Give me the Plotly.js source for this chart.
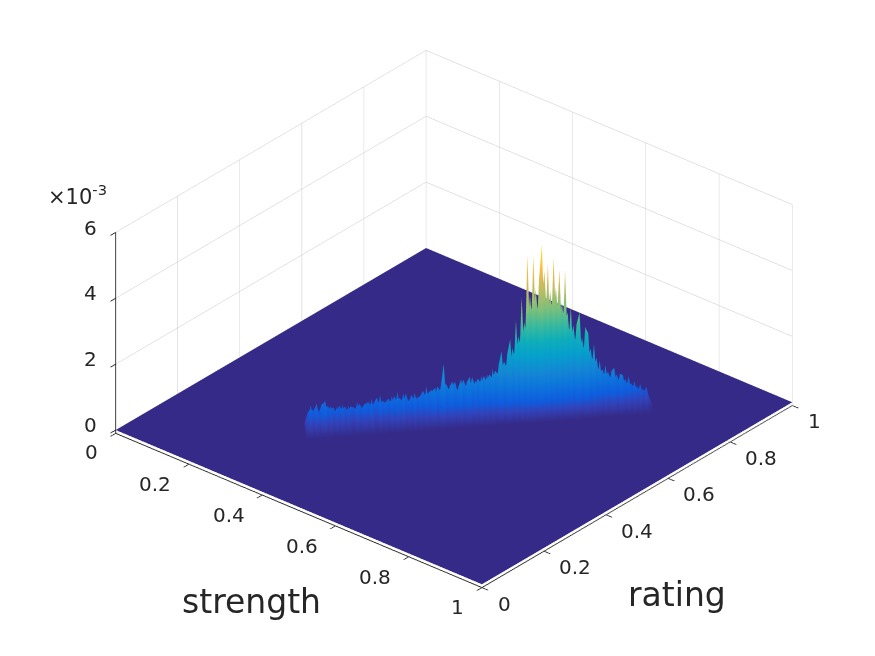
<!DOCTYPE html>
<html>
<head>
<meta charset="utf-8">
<script src="https://cdn.plot.ly/plotly-3.0.1.min.js"></script>
<style>
  html, body { margin: 0; padding: 0; background: #fff; }
  #chart { width: 875px; height: 656px; }
</style>
</head>
<body>
<div id="chart"></div>
<script>
// axis ticks
const strengthTicks = [0, 0.2, 0.4, 0.6, 0.8, 1];
const ratingTicks = [0, 0.2, 0.4, 0.6, 0.8, 1];
const zTicks = [0, 0.002, 0.004, 0.006];
const zTickLabels = ["0", "2", "4", "6"];

// floor of the surface
const floorStrength = [0, 1];
const floorRating = [0, 1];
const floorHeight = [[0, 0], [0, 0]];

// ridge centre line
const ridgeStrength = [
  .311,.315,.319,.323,.327,.331,.335,.339,.343,.347,.351,.355,.359,.363,.367,.371,.375,.379,.383,.387,
  .391,.395,.399,.403,.407,.411,.415,.419,.423,.427,.431,.435,.439,.443,.447,.451,.455,.459,.463,.467,
  .471,.475,.479,.483,.487,.491,.495,.499,.503,.507,.511,.515,.519,.523,.527,.531,.535,.539,.543,.547,
  .551,.555,.559,.563,.567,.571,.575,.579,.583,.587,.591,.595,.599,.603,.607,.611,.615,.619,.623,.627,
  .631,.635,.639,.643,.647,.651,.655,.659,.663,.667,.671,.675,.679,.683,.687,.691,.695,.699,.703,.707,
  .711,.715,.719,.723,.727,.731,.735,.739,.743,.747,.751,.755,.759,.763,.767,.771,.775,.779,.783,.787,.791
];
const ridgeRating = [
  .243,.248,.252,.257,.261,.266,.271,.275,.280,.284,.289,.293,.298,.303,.307,.312,.316,.321,.326,.330,
  .335,.339,.344,.349,.353,.358,.362,.367,.372,.376,.381,.385,.390,.394,.399,.404,.408,.413,.417,.422,
  .427,.431,.436,.440,.445,.450,.454,.459,.463,.468,.473,.477,.482,.486,.491,.495,.500,.505,.509,.514,
  .518,.523,.528,.532,.537,.541,.546,.551,.555,.560,.564,.569,.573,.578,.583,.587,.592,.596,.601,.606,
  .610,.615,.619,.624,.629,.633,.638,.642,.647,.652,.656,.661,.665,.670,.674,.679,.684,.688,.693,.697,
  .702,.707,.711,.716,.720,.725,.730,.734,.739,.743,.748,.752,.757,.762,.766,.771,.775,.780,.785,.789,.794
];

// heights (x 10^-3) across the ridge: behind, on and in front of the centre line
const ridgeBack = [
  .25,.55,.65,.6,.75,.55,.8,.65,.7,.6,
  .65,.5,.7,.55,.65,.5,.65,.6,.55,.7,
  .55,.65,.75,.6,.7,.85,.6,.75,.65,.8,
  .65,.85,.7,.8,.65,.9,.65,.85,.7,.75,
  .8,.95,.75,.9,.95,.75,1.05,.9,1.05,1.1,
  .9,1.0,1.15,.85,1.0,1.2,.95,.85,1.25,1.0,
  1.2,1.05,1.25,1.1,1.3,1.15,1.4,1.25,1.35,1.65,
  1.45,1.35,2.05,1.6,2.4,1.9,2.8,2.3,3.6,2.6,
  3.8,2.7,3.3,4.3,2.6,3.7,2.8,3.8,2.6,3.3,
  2.6,3.0,2.0,2.6,1.9,1.7,2.2,1.6,1.5,1.85,
  1.25,1.55,1.0,1.2,.95,1.1,.85,.8,1.0,.75,
  .7,.85,.6,.7,.55,.6,.45,.5,.4,.3,.1
];
const ridgeMid = [
  .2,.5,.85,.35,.9,.45,.85,.95,.4,.8,
  .35,.75,.4,.8,.3,.75,.45,.3,.85,.4,
  .7,.8,.45,.9,.4,.45,1.0,.5,.85,.4,
  .95,.5,1.05,.5,1.0,.45,.8,.5,1.0,.5,
  .9,.55,1.15,.6,1.0,1.1,.6,1.15,1.8,.65,
  1.1,1.25,.65,1.05,1.3,.65,1.2,1.35,.7,1.25,
  .75,1.35,.75,1.4,.85,1.55,.9,1.65,2.05,1.0,
  1.95,2.4,1.1,2.95,1.4,3.65,1.6,4.95,2.0,4.9,
  2.2,4.2,5.2,2.4,4.6,2.1,4.8,2.5,4.4,2.1,
  4.35,1.8,3.25,1.5,2.7,3.05,1.3,2.6,2.4,1.1,
  2.05,.9,1.55,.75,1.4,.7,1.2,1.3,.65,1.1,
  1.05,.6,1.0,.5,.85,.45,.75,.4,.65,.35,.15
];
const ridgeFront = [
  .1,.3,.5,.2,.55,.22,.5,.6,.2,.45,
  .18,.4,.2,.45,.15,.4,.22,.15,.5,.18,
  .4,.45,.2,.55,.22,.18,.6,.22,.5,.2,
  .6,.22,.65,.25,.6,.18,.45,.22,.6,.22,
  .55,.22,.7,.25,.6,.7,.22,.7,1.0,.25,
  .65,.75,.28,.65,.8,.28,.7,.85,.28,.75,
  .28,.85,.3,.9,.32,.95,.32,1.0,1.2,.38,
  1.15,1.4,.38,1.7,.45,2.1,.55,2.6,.65,2.5,
  .75,2.2,2.8,.8,2.4,.75,2.5,.85,2.3,.75,
  2.2,.6,1.8,.5,1.5,1.7,.45,1.45,1.3,.4,
  1.15,.35,.9,.28,.8,.25,.7,.75,.22,.65,
  .6,.2,.6,.18,.5,.18,.45,.15,.4,.12,.05
];
// how far each of the rows above sits from the centre line
const crossOffset = [-0.018, -0.008, 0, 0.009, 0.02];

const parula = [
  [0, "#352a87"], [0.063, "#3243ba"], [0.111, "#0f5cdd"], [0.19, "#0d75dc"],
  [0.254, "#1485d4"], [0.35, "#06a0cd"], [0.43, "#0faeb9"], [0.508, "#38b99e"],
  [0.6, "#7cbf7b"], [0.7, "#b7bd64"], [0.762, "#d9ba56"], [0.84, "#fdbe3d"],
  [0.92, "#f5de21"], [1, "#f9fb0e"]
];

function ridgeSurface() {
  const zero = ridgeMid.map(() => 0);
  const rows = [zero, ridgeBack, ridgeMid, ridgeFront, zero];
  return {
    x: crossOffset.map((d) => ridgeStrength.map((v) => v + d)),
    y: crossOffset.map((d) => ridgeRating.map((v) => v - d)),
    z: rows.map((row) => row.map((v) => v * 0.001)),
  };
}

const flatLight = { ambient: 1, diffuse: 0, specular: 0, roughness: 1, fresnel: 0 };

const floorTrace = {
  type: "surface",
  x: floorStrength,
  y: floorRating,
  z: floorHeight,
  cmin: 0,
  cmax: 0.0054,
  colorscale: parula,
  showscale: false,
  lighting: flatLight,
};

const ridgeTrace = Object.assign(ridgeSurface(), {
  type: "surface",
  cmin: 0,
  cmax: 0.0054,
  colorscale: parula,
  showscale: false,
  lighting: flatLight,
});

function axisStyle(ticks) {
  return {
    range: [0, 1],
    tickmode: "array",
    tickvals: ticks,
    showticklabels: false,
    ticks: "outside",
    ticklen: 8,
    tickwidth: 2,
    tickcolor: "#262626",
    showgrid: true,
    gridcolor: "#c8c8c8",
    gridwidth: 1,
    showline: true,
    linecolor: "#262626",
    linewidth: 2,
    showbackground: false,
    showspikes: false,
    zeroline: false,
    title: { text: "" },
  };
}

// tick labels are scene annotations, so the library's own projection places them
const tickFont = { family: "DejaVu Sans", size: 20, color: "#262626" };
function tickNote(x, y, z, text, xshift, yshift) {
  return { x, y, z, text, xshift, yshift, showarrow: false, font: tickFont };
}
const sceneNotes = [
  ...strengthTicks.map((t) =>
    tickNote(t, 0, 0, String(t), Number.isInteger(t) ? -24 : -33, Number.isInteger(t) ? -22 : -23)),
  ...ratingTicks.map((t) =>
    tickNote(1, t, 0, String(t), Number.isInteger(t) ? 23 : 32, -19)),
  ...zTicks.map((t, i) => tickNote(0, 0, t, zTickLabels[i], -25, 5)),
];

const layout = {
  width: 875,
  height: 656,
  margin: { l: 0, r: 0, t: 0, b: 0 },
  paper_bgcolor: "#fff",
  showlegend: false,
  scene: {
    domain: { x: [0.036, 1], y: [0.027, 1] },
    aspectmode: "manual",
    aspectratio: { x: 1.505, y: 1.505, z: 0.726 },
    camera: {
      projection: { type: "orthographic" },
      up: { x: 0, y: 0, z: 1 },
      center: { x: 0, y: 0, z: 0 },
      eye: { x: 0.561, y: -0.662, z: 0.497 },
    },
    xaxis: axisStyle(strengthTicks),
    yaxis: axisStyle(ratingTicks),
    zaxis: Object.assign(axisStyle(zTicks), { range: [-0.0001, 0.006] }),
    annotations: sceneNotes,
  },
  annotations: [
    { text: "strength", x: 252, y: 601, size: 33 },
    { text: "rating", x: 677, y: 594, size: 33 },
    { text: "×10<sup>-3</sup>", x: 77, y: 195, size: 21 },
  ].map((a) => ({
    text: a.text,
    xref: "paper",
    yref: "paper",
    x: a.x / 875,
    y: 1 - a.y / 656,
    xanchor: "center",
    yanchor: "middle",
    showarrow: false,
    font: { family: "DejaVu Sans", size: a.size, color: "#262626" },
  })),
};

Plotly.newPlot("chart", [floorTrace, ridgeTrace], layout, { displayModeBar: false });
</script>
</body>
</html>
